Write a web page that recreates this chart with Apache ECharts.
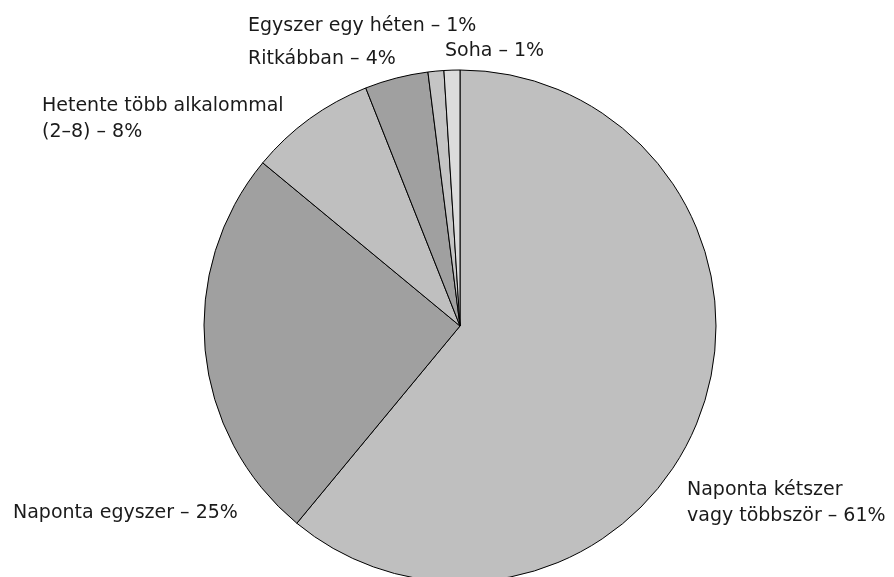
<!DOCTYPE html>
<html>
<head>
<meta charset="utf-8">
<script src="https://cdn.jsdelivr.net/npm/echarts@6/dist/echarts.min.js"></script>
<style>
  html, body { margin: 0; padding: 0; background: #ffffff; }
  #chart { width: 894px; height: 577px; }
</style>
</head>
<body>
<div id="chart"></div>
<script>
// Válaszkategóriák (óramutató járásával egyezően, a 12 órás iránytól)
const categories = [
  'Naponta kétszer\nvagy többször',
  'Naponta egyszer',
  'Hetente több alkalommal\n(2–8)',
  'Ritkábban',
  'Egyszer egy héten',
  'Soha'
];
// Százalékos megoszlás
const values = [61, 25, 8, 4, 1, 1];
// Szeletek kitöltőszínei
const sliceColors = ['#bfbfbf', '#a0a0a0', '#bfbfbf', '#a0a0a0', '#c4c4c4', '#dcdcdc'];

// A feliratok bal szélének és függőleges közepének helye
const labelAnchors = [
  [687, 503],
  [13, 513],
  [42, 119],
  [248, 59],
  [248, 26],
  [445, 51]
];

const chart = echarts.init(document.getElementById('chart'), null, { renderer: 'canvas' });

chart.setOption({
  backgroundColor: '#ffffff',
  animation: false,
  series: [{
    type: 'pie',
    center: [460, 326],
    radius: 256,
    startAngle: 90,
    clockwise: true,
    avoidLabelOverlap: false,
    itemStyle: { borderColor: '#000000', borderWidth: 1 },
    label: {
      show: true,
      position: 'outside',
      formatter: p => p.name + ' – ' + p.value + '%',
      fontFamily: 'DejaVu Sans',
      fontSize: 19,
      lineHeight: 26,
      color: '#1a1a1a'
    },
    labelLine: { show: false },
    labelLayout: params => {
      const a = labelAnchors[params.dataIndex];
      return { x: a[0], y: a[1], align: 'left', verticalAlign: 'middle', hideOverlap: false };
    },
    emphasis: { disabled: true },
    data: categories.map((name, i) => ({
      name: name,
      value: values[i],
      itemStyle: { color: sliceColors[i] }
    }))
  }]
});
</script>
</body>
</html>
